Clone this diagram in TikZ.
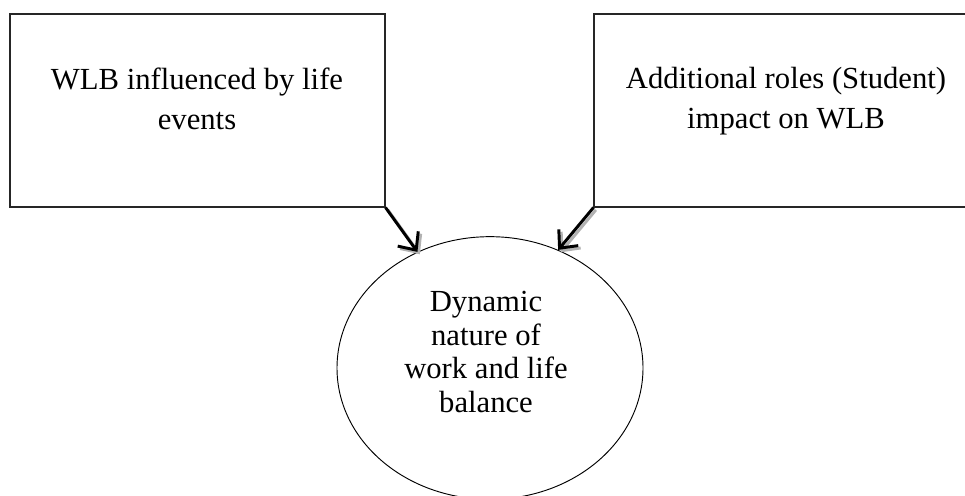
\documentclass[tikz,border=0pt]{standalone}
\usepackage{fontspec}
\setmainfont{Liberation Serif}
\usetikzlibrary{shapes.geometric,arrows.meta}

\tikzset{
  box/.style={draw=black!85, line width=0.8pt, minimum height=144.75pt, inner sep=0pt},
  bubble/.style={ellipse, draw=black, line width=0.7pt, minimum width=229.5pt, minimum height=197pt, inner sep=0pt},
  txt/.style={align=center, font=\fontsize{23}{30}\selectfont, inner sep=0pt},
  arr/.style={line width=2.2pt, -{Straight Barb[length=10.5pt, width=19pt, line width=2.2pt]}},
  arrshade/.style={arr, draw=black!30, transform canvas={shift={(1.8pt,-1.8pt)}}}
}

\begin{document}
\begin{tikzpicture}[x=0.75pt, y=-0.75pt]
  \useasboundingbox (0,0) rectangle (965,496);
  \clip (0,0) rectangle (965,496);

  % the two source boxes
  \node[box, minimum width=281.25pt] (lbox) at (197.5,110.5) {};
  \node[box, minimum width=288pt] (rbox) at (786,110.5) {};

  % the target ellipse
  \node[bubble] (ell) at (490,368) {};

  % texts
  \node[txt] (ltext) at (197,99) {WLB influenced by life\\events};
  \node[txt] (rtext) at (786,101) {Additional roles (Student)\\impact on WLB};
  \node[txt, font=\fontsize{23}{25.1}\selectfont] (etext) at (486,352) {Dynamic\\nature of\\work and life\\balance};

  % connectors with a soft shadow
  \draw[arrshade] (lbox.south east) -- (ell.122);
  \draw[arrshade] (rbox.south west) -- (ell.60);
  \draw[arr] (lbox.south east) -- (ell.122);
  \draw[arr] (rbox.south west) -- (ell.60);
\end{tikzpicture}
\end{document}
